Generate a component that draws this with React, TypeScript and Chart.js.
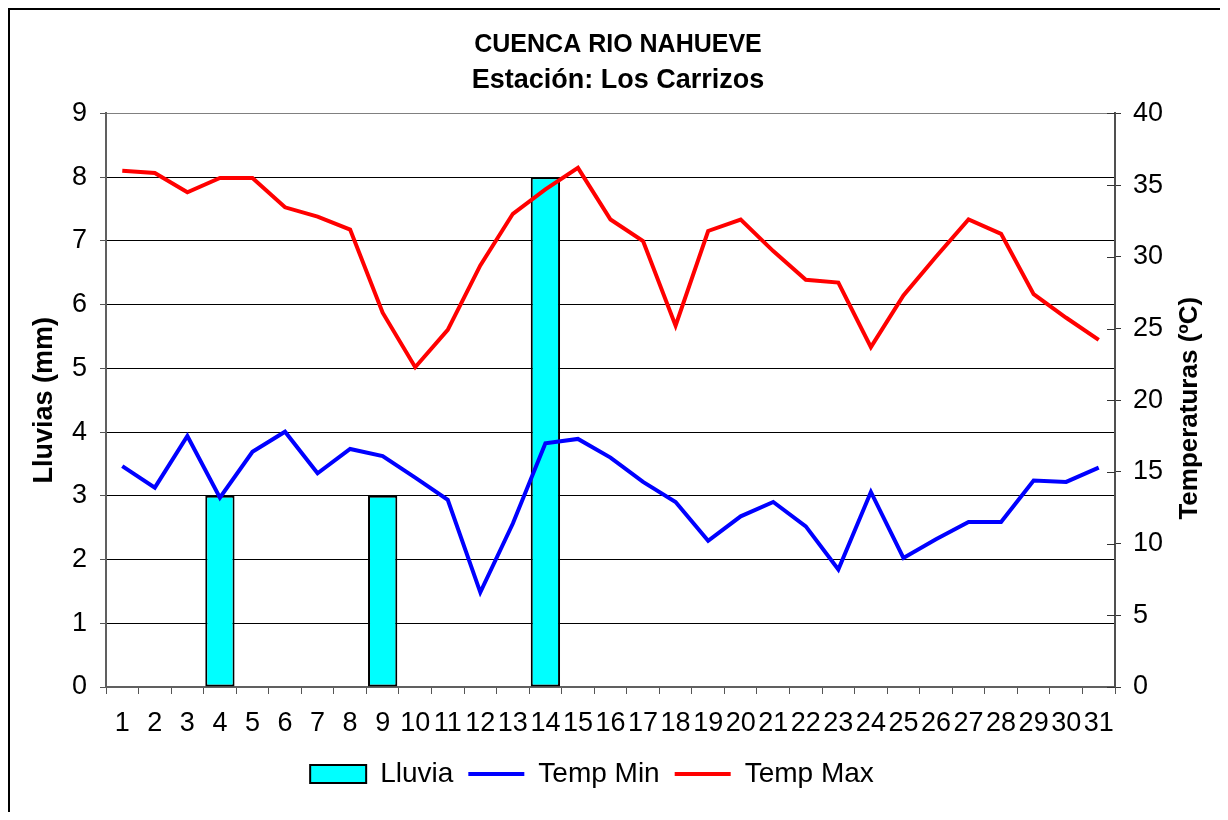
import React, { useEffect, useRef } from 'react';
import { Chart, registerables } from 'chart.js';

Chart.register(...registerables);

const FONT = "'Liberation Sans', Arial, Helvetica, sans-serif";

const TITLE = 'CUENCA RIO NAHUEVE';
const SUBTITLE = 'Estación: Los Carrizos';
const LEFT_AXIS_TITLE = 'Lluvias (mm)';
const RIGHT_AXIS_TITLE = 'Temperaturas (ºC)';

const dayLabels = [
  '1', '2', '3', '4', '5', '6', '7', '8', '9', '10', '11', '12', '13', '14', '15', '16',
  '17', '18', '19', '20', '21', '22', '23', '24', '25', '26', '27', '28', '29', '30', '31',
];

const lluvia = [0, 0, 0, 3, 0, 0, 0, 0, 3, 0, 0, 0, 0, 8, 0, 0, 0, 0, 0, 0, 0, 0, 0, 0, 0, 0, 0, 0, 0, 0, 0];

const tempMin = [
  15.4, 13.9, 17.5, 13.2, 16.4, 17.8, 14.9, 16.6, 16.1, 14.6, 13.05, 6.6, 11.4, 17.0, 17.3, 16.0,
  14.3, 12.9, 10.2, 11.9, 12.9, 11.2, 8.2, 13.6, 9.0, 10.3, 11.5, 11.5, 14.4, 14.3, 15.3,
];

const tempMax = [
  36.0, 35.85, 34.5, 35.5, 35.5, 33.45, 32.8, 31.9, 26.1, 22.3, 24.9, 29.4, 33.0, 34.7, 36.2, 32.6,
  31.1, 25.2, 31.8, 32.6, 30.4, 28.4, 28.2, 23.7, 27.3, 30.0, 32.6, 31.6, 27.4, 25.75, 24.2,
];

const extrasPlugin = {
  id: 'extras',
  afterLayout(chart: any) {
    const lg = chart.legend;
    if (lg) {
      lg.left -= 26;
      lg.right -= 26;
    }
  },
  afterDraw(chart: any) {
    const ctx = chart.ctx;
    const a = chart.chartArea;
    ctx.save();
    ctx.fillStyle = '#000';
    ctx.fillRect(0, 0, 2, chart.height);
    ctx.fillRect(0, 0, chart.width, 2);
    // inner half of the right-axis tick marks (they cross the axis line)
    const y1 = chart.scales.y1;
    ctx.strokeStyle = '#333';
    ctx.lineWidth = 1;
    y1.ticks.forEach((t: any) => {
      const py = Math.round(y1.getPixelForValue(t.value)) + 0.5;
      ctx.beginPath();
      ctx.moveTo(a.right - 8, py);
      ctx.lineTo(a.right, py);
      ctx.stroke();
    });
    ctx.translate(1182, (a.top + a.bottom) / 2 + 8);
    ctx.rotate(-Math.PI / 2);
    ctx.font = `bold 26px ${FONT}`;
    ctx.textAlign = 'center';
    ctx.textBaseline = 'middle';
    ctx.fillStyle = '#000';
    ctx.fillText(RIGHT_AXIS_TITLE, 0, 0);
    ctx.restore();
  },
};

export default function App() {
  const ref = useRef<HTMLCanvasElement | null>(null);

  useEffect(() => {
    if (!ref.current) return;
    Chart.defaults.font.family = FONT;
    Chart.defaults.color = '#000';
    const chart = new Chart(ref.current, {
      type: 'bar',
      data: {
        labels: dayLabels,
        datasets: [
          {
            type: 'bar',
            label: 'Lluvia',
            data: lluvia,
            yAxisID: 'y',
            backgroundColor: '#00FFFF',
            borderColor: '#000000',
            borderWidth: 2,
            borderSkipped: false,
            barPercentage: 0.9,
            categoryPercentage: 1,
            pointStyle: 'rect',
            order: 2,
          } as any,
          {
            type: 'line',
            label: 'Temp Min',
            data: tempMin,
            yAxisID: 'y1',
            borderColor: '#0000FF',
            backgroundColor: '#0000FF',
            borderWidth: 4,
            pointRadius: 0,
            pointStyle: 'line',
            tension: 0,
            order: 1,
          } as any,
          {
            type: 'line',
            label: 'Temp Max',
            data: tempMax,
            yAxisID: 'y1',
            borderColor: '#FF0000',
            backgroundColor: '#FF0000',
            borderWidth: 4,
            pointRadius: 0,
            pointStyle: 'line',
            tension: 0,
            order: 0,
          } as any,
        ],
      },
      options: {
        responsive: false,
        animation: false,
        events: [],
        layout: { padding: { left: 0, right: 0, top: 0, bottom: 22 } },
        plugins: {
          title: {
            display: true,
            text: TITLE,
            color: '#000',
            font: { size: 25, weight: 'bold', family: FONT, lineHeight: 1.2 },
            padding: { top: 22, bottom: 0 },
          },
          subtitle: {
            display: true,
            text: SUBTITLE,
            color: '#000',
            font: { size: 27, weight: 'bold', family: FONT, lineHeight: 1.2 },
            padding: { top: 4, bottom: 17 },
          },
          legend: {
            display: true,
            position: 'bottom',
            labels: {
              color: '#000',
              font: { size: 28, family: FONT },
              usePointStyle: true,
              pointStyleWidth: 56,
              boxHeight: 18,
              padding: 15,
              sort: (a: any, b: any) => a.datasetIndex - b.datasetIndex,
            },
          },
          tooltip: { enabled: false },
        },
        scales: {
          x: {
            type: 'category',
            offset: true,
            grid: {
              offset: true,
              drawOnChartArea: false,
              drawTicks: true,
              tickLength: 7,
              tickColor: '#555',
              tickWidth: 1,
            },
            border: { display: true, color: '#606060', width: 2 },
            ticks: {
              color: '#000',
              font: { size: 27, family: FONT },
              padding: 13,
              maxRotation: 0,
              minRotation: 0,
              autoSkip: false,
            },
            afterFit: (s: any) => {
              s.height = 58;
            },
          },
          y: {
            type: 'linear',
            position: 'left',
            min: 0,
            max: 9,
            ticks: {
              stepSize: 1,
              color: '#000',
              font: { size: 27, family: FONT },
              padding: 13,
            },
            grid: {
              color: (c: any) => (c.tick && c.tick.value === 9 ? '#808080' : '#000'),
              lineWidth: 1,
              drawTicks: true,
              tickLength: 6,
              tickColor: '#555',
            },
            border: { display: true, color: '#606060', width: 2 },
            title: {
              display: true,
              text: LEFT_AXIS_TITLE,
              color: '#000',
              font: { size: 27, weight: 'bold', family: FONT, lineHeight: 1.2 },
              padding: { top: 20, bottom: 0 },
            },
            afterFit: (s: any) => {
              s.width = 98;
            },
          },
          y1: {
            type: 'linear',
            position: 'right',
            min: 0,
            max: 40,
            ticks: {
              stepSize: 5,
              color: '#000',
              font: { size: 27, family: FONT },
              padding: 12,
            },
            grid: {
              drawOnChartArea: false,
              drawTicks: true,
              tickLength: 6,
              tickColor: '#333',
            },
            border: { display: true, color: '#505050', width: 2 },
            afterFit: (s: any) => {
              s.width = 113;
            },
          },
        },
      } as any,
      plugins: [extrasPlugin],
    });
    return () => chart.destroy();
  }, []);

  return (
    <div style={{ width: 1212, height: 804, overflow: 'hidden', position: 'relative' }}>
      <canvas ref={ref} width={1220} height={812} style={{ display: 'block', width: 1220, height: 812 }} />
    </div>
  );
}
